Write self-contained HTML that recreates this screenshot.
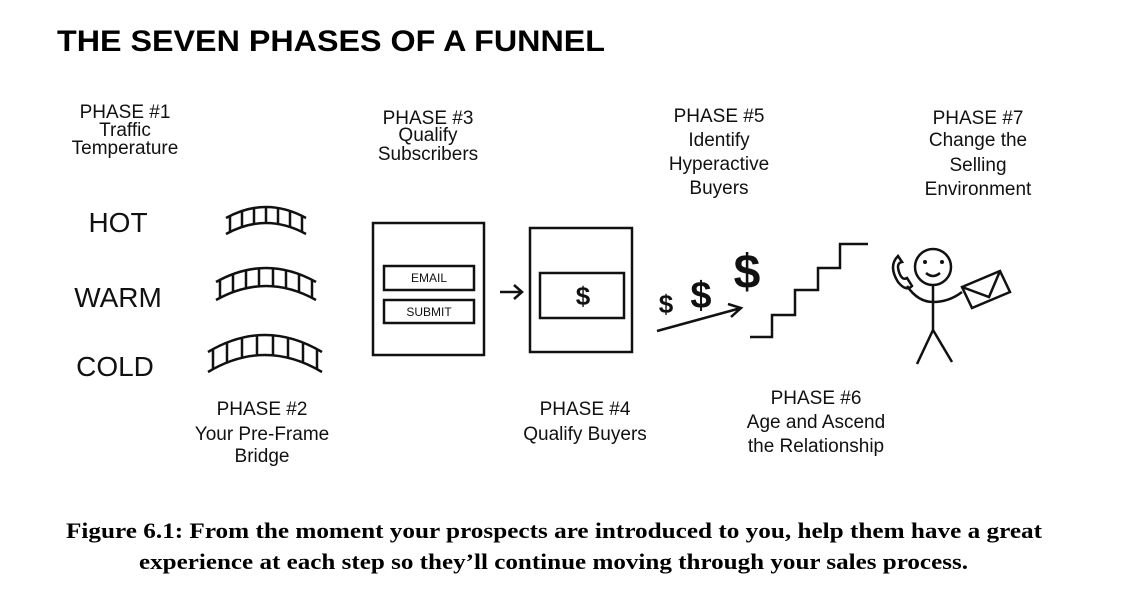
<!DOCTYPE html>
<html><head><style>
body{margin:0;background:#fff;width:1132px;height:601px;overflow:hidden}
.s{font-family:"Liberation Sans",sans-serif}
.h{font-size:19px;text-anchor:middle;fill:#111}
.b{font-size:28px;text-anchor:middle;fill:#111}
.cap{font-family:"Liberation Serif",serif;font-weight:bold;font-size:22px;fill:#000}
</style></head><body>
<svg width="1132" height="601" viewBox="0 0 1132 601" xmlns="http://www.w3.org/2000/svg">
<text class="s" x="57" y="51" font-size="30" font-weight="bold" fill="#000" textLength="548" lengthAdjust="spacingAndGlyphs">THE SEVEN PHASES OF A FUNNEL</text>
<g class="s">
<text class="h" x="125" y="118">PHASE #1</text>
<text class="h" x="125" y="136">Traffic</text>
<text class="h" x="125" y="154">Temperature</text>
<text class="b" x="118" y="232">HOT</text>
<text class="b" x="118" y="307">WARM</text>
<text class="b" x="115" y="376">COLD</text>
<text class="h" x="262" y="415">PHASE #2</text>
<text class="h" x="262" y="440">Your Pre-Frame</text>
<text class="h" x="262" y="462">Bridge</text>
<text class="h" x="428" y="124">PHASE #3</text>
<text class="h" x="428" y="141">Qualify</text>
<text class="h" x="428" y="160">Subscribers</text>
<text class="h" x="585" y="415">PHASE #4</text>
<text class="h" x="585" y="440">Qualify Buyers</text>
<text class="h" x="719" y="122">PHASE #5</text>
<text class="h" x="719" y="146">Identify</text>
<text class="h" x="719" y="170">Hyperactive</text>
<text class="h" x="719" y="194">Buyers</text>
<text class="h" x="816" y="404">PHASE #6</text>
<text class="h" x="816" y="428">Age and Ascend</text>
<text class="h" x="816" y="452">the Relationship</text>
<text class="h" x="978" y="124">PHASE #7</text>
<text class="h" x="978" y="146">Change the</text>
<text class="h" x="978" y="171">Selling</text>
<text class="h" x="978" y="195">Environment</text>
</g>
<g fill="none" stroke="#111" stroke-width="2.5">
<path d="M226 218 Q266 196 306 218 M226 234 Q266 212 306 234"/>
<path d="M230 216v16M242 211v16M254 208v16M266 207v16M278 208v16M290 211v16M302 216v16"/>
<path d="M216 282 Q266 254 316 282 M216 300 Q266 272 316 300"/>
<path d="M220 280v18M233 274v18M246 270v18M259 268v18M273 268v18M286 270v18M299 274v18M312 280v18"/>
<path d="M208 352 Q265 318 322 352 M208 372 Q265 338 322 372"/>
<path d="M213 349v20M227 342v20M242 338v20M257 335v20M273 335v20M288 338v20M303 342v20M317 349v20"/>
<rect x="373" y="223" width="111" height="132"/>
<rect x="384" y="266" width="90" height="24"/>
<rect x="384" y="300" width="90" height="23"/>
<path d="M500 292h22M514 285l8 7-8 7"/>
<rect x="530" y="228" width="102" height="124"/>
<rect x="540" y="273" width="84" height="45"/>
<path d="M657 331 L741 308 M728 304l13 4-10 9"/>
<path d="M750 337h22v-22h23v-25h23v-22h22v-24h28"/>
<circle cx="933" cy="267" r="18"/>
<path d="M926 273q7 6 14 0"/>
<path d="M933 285v45M933 330l-16 34M933 330l19 32M933 302q-15 0-26-16M933 302q16 0 29-10"/>
<path d="M898 256q-10 10 0 26q8 10 14 4l-5-8q-5 3-8-6t3-10l-4-6z"/>
<path d="M962 287l38-16 10 21-38 16z M962 287l27 10 11-26"/>
</g>
<g fill="#111" class="s">
<circle cx="942" cy="262" r="2"/><circle cx="925" cy="262" r="2"/>
<text x="429" y="282" font-size="12" text-anchor="middle">EMAIL</text>
<text x="429" y="316" font-size="12" text-anchor="middle">SUBMIT</text>
<text x="583" y="305" font-size="26" font-weight="bold" text-anchor="middle">$</text>
<text x="666" y="313" font-size="26" font-weight="bold" text-anchor="middle">$</text>
<text x="701" y="308" font-size="38" font-weight="bold" text-anchor="middle">$</text>
<text x="747" y="288" font-size="48" font-weight="bold" text-anchor="middle">$</text>
</g>
<text class="cap" x="66" y="538" textLength="976" lengthAdjust="spacingAndGlyphs">Figure 6.1: From the moment your prospects are introduced to you, help them have a great</text>
<text class="cap" x="139" y="569" textLength="829" lengthAdjust="spacingAndGlyphs">experience at each step so they’ll continue moving through your sales process.</text>
</svg>
</body></html>
